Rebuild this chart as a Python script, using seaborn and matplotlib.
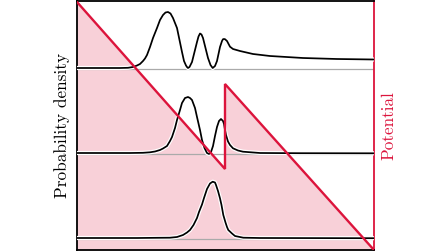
import numpy as np
import pandas as pd
import matplotlib
matplotlib.use("Agg")
import matplotlib.pyplot as plt
import matplotlib.patheffects as pe
import seaborn as sns

# position / energy in arbitrary units
pot_x = [0, 148, 148, 297]
pot_y = [248, 81, 166, 0]

levels = [181, 96, 11]

top_x = [0, 43, 51, 56, 60, 63, 66, 68, 70, 73, 76, 80, 83, 86, 88.5, 91, 93.5,
         96, 100, 102.5, 105, 107, 109, 110, 111, 112.5, 115, 118, 120, 121.5,
         123, 124.5, 126, 129, 131, 133.5, 135.7, 138, 140, 143, 145, 146, 147,
         148, 150, 153, 156, 163, 176, 193, 226, 260, 297]
top_y = [182, 182, 182.2, 183, 184.5, 186, 189, 191.5, 195, 203, 212, 222, 230,
         235, 237.5, 238, 236.5, 232, 222, 210, 198, 189, 184.5, 183, 182, 183,
         188, 200, 208, 213.5, 216.5, 215.5, 212, 200, 192, 185, 182, 184, 189,
         203, 209, 210.8, 211, 210.8, 209, 203.3, 201, 199, 196, 194, 192, 191,
         190.5]

mid_x = [0, 53, 66, 73, 78, 83, 86, 90, 93, 95, 98, 100, 103, 105, 108, 111, 113,
         115, 118, 120, 123, 125, 127.5, 130, 132, 134, 136, 138, 140, 142, 144,
         146, 147, 148, 149, 151, 153, 156, 161, 166, 183, 223, 297]
mid_y = [97, 97, 97.2, 97.7, 98.5, 100, 101.5, 104, 109, 113, 122, 130, 140, 147,
         152, 153, 152, 150, 142, 133, 120, 110, 102, 97, 96, 98, 104, 114, 123,
         129, 131, 129, 126, 120, 115, 108.5, 105, 101.7, 99.5, 98.3, 97, 96.8,
         96.7]

bot_x = [0, 60, 80, 93, 100, 106, 110, 113, 116.5, 120, 122, 125, 127, 130, 133,
         135.7, 138, 139, 141, 143, 144.5, 146.3, 148.5, 150, 151.3, 155, 158,
         166.3, 183, 297]
bot_y = [12, 12, 12.2, 12.3, 13, 15, 17.5, 20, 25, 32, 38, 45.5, 52, 61, 66.5,
         68.3, 67.5, 65, 59, 51.7, 45, 35, 27.5, 23, 20, 16.5, 14, 12.3, 12, 11.8]

red = "#dc143c"

sns.set_theme(style="white")
plt.rcParams["font.family"] = ["cmr10", "DejaVu Serif"]
plt.rcParams["axes.formatter.use_mathtext"] = True

fig = plt.figure(figsize=(4.48, 2.52), dpi=100)
ax = fig.add_axes([77 / 448, 2 / 252, 297 / 448, 249 / 252])

ax.fill_between(pot_x, pot_y, 0, color=red, alpha=0.2, linewidth=0, zorder=1)

for lv in levels:
    ax.axhline(lv, color="#aaaaaa", lw=0.9, zorder=2)

halo = [pe.Stroke(linewidth=3.0, foreground="white"), pe.Normal()]
for xs, ys in [(top_x, top_y), (mid_x, mid_y), (bot_x, bot_y)]:
    df = pd.DataFrame({"x": xs, "y": ys})
    sns.lineplot(data=df, x="x", y="y", ax=ax, color="black", lw=1.25,
                 estimator=None, sort=False, zorder=3, path_effects=halo,
                 solid_joinstyle="round")

ax.plot(pot_x, pot_y, color=red, lw=1.7, zorder=4, solid_joinstyle="miter")

ax.set_xlim(0, 297)
ax.set_ylim(0, 249)
ax.set_xticks([])
ax.set_yticks([])
ax.set_xlabel("")
ax.set_ylabel("Probability density", fontsize=12.4, labelpad=5, color="black")

for side in ["left", "top", "bottom"]:
    ax.spines[side].set_color("black")
    ax.spines[side].set_linewidth(1.3)
ax.spines["right"].set_color(red)
ax.spines["right"].set_linewidth(1.3)

ax2 = ax.twinx()
ax2.set_ylim(0, 249)
ax2.set_yticks([])
ax2.set_ylabel("Potential", fontsize=12.3, labelpad=5, color=red)
for s in ax2.spines.values():
    s.set_visible(False)

fig.savefig("out.png", dpi=100)
